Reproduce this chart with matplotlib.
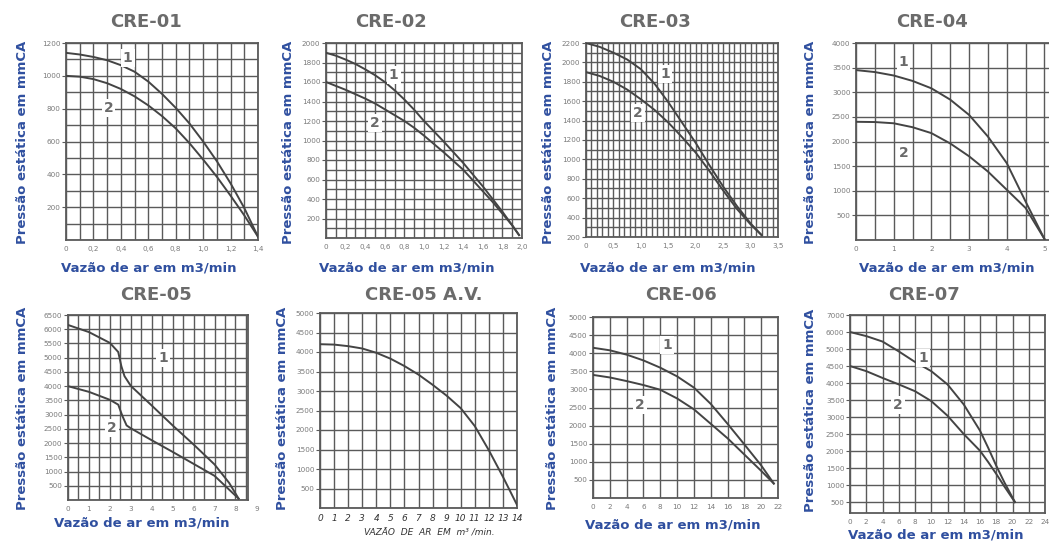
import numpy as np
import matplotlib
matplotlib.use("Agg")
import matplotlib.pyplot as plt

# ---------------- data: fan curves (pressure in mmCA vs airflow in m3/min) ----------------
cre01_x = [0, 0.1, 0.2, 0.3, 0.4, 0.5, 0.6, 0.7, 0.8, 0.9, 1.0, 1.1, 1.2, 1.3, 1.4]
cre01_y1 = [1140, 1130, 1115, 1095, 1065, 1025, 965, 890, 805, 710, 600, 480, 345, 195, 20]
cre01_y2 = [1000, 995, 980, 955, 920, 875, 820, 755, 680, 590, 490, 385, 270, 150, 20]

cre02_x = [0, 0.1, 0.2, 0.3, 0.4, 0.5, 0.6, 0.7, 0.8, 0.9, 1.0, 1.1, 1.2, 1.3, 1.4,
           1.5, 1.6, 1.7, 1.8, 1.9, 1.97]
cre02_y1 = [1900, 1870, 1830, 1785, 1730, 1670, 1600, 1515, 1420, 1315, 1200, 1095, 990,
            880, 770, 650, 530, 400, 270, 130, 30]
cre02_y2 = [1600, 1560, 1520, 1475, 1430, 1380, 1320, 1260, 1200, 1130, 1050, 965, 880,
            790, 700, 590, 480, 370, 250, 130, 30]

cre03_x = [0, 0.25, 0.5, 0.75, 1.0, 1.25, 1.5, 1.75, 2.0, 2.25, 2.5, 2.75, 3.0, 3.2]
cre03_y1 = [2200, 2160, 2100, 2030, 1930, 1780, 1590, 1380, 1170, 940, 720, 520, 340, 220]
cre03_y2 = [1900, 1860, 1800, 1720, 1620, 1510, 1380, 1230, 1070, 880, 680, 490, 330, 220]

cre04_x = [0, 0.5, 1, 1.5, 2, 2.5, 3, 3.5, 4, 4.5, 5.0]
cre04_y1 = [3450, 3410, 3340, 3230, 3080, 2850, 2540, 2100, 1560, 780, 20]
cre04_y2 = [2400, 2395, 2370, 2290, 2170, 1960, 1700, 1390, 1020, 650, 20]

cre05_x1 = [0, 1, 2, 2.4, 2.55, 2.7, 3.0, 4, 5, 6, 7, 7.7, 8.15]
cre05_y1 = [6150, 5900, 5520, 5200, 4700, 4350, 4010, 3320, 2620, 1950, 1250, 600, 50]
cre05_x2 = [0, 1, 2, 2.4, 2.6, 2.8, 3.0, 4, 5, 6, 7, 8.15]
cre05_y2 = [4000, 3800, 3520, 3350, 2950, 2620, 2520, 2100, 1690, 1270, 850, 50]

cre05av_x = [0, 1, 2, 3, 4, 5, 6, 7, 8, 9, 10, 11, 12, 13, 14]
cre05av_y = [4200, 4190, 4150, 4090, 3980, 3830, 3640, 3420, 3160, 2880, 2560, 2100, 1480, 800, 80]

cre06_x = [0, 2, 4, 6, 8, 10, 12, 14, 16, 18, 20, 21.5]
cre06_y1 = [4150, 4080, 3960, 3800, 3600, 3360, 3050, 2600, 2050, 1480, 900, 400]
cre06_y2 = [3400, 3330, 3230, 3120, 2990, 2750, 2450, 2050, 1650, 1200, 750, 400]

cre07_x = [0, 2, 4, 6, 8, 10, 12, 14, 16, 17, 18, 19, 20.3]
cre07_y1 = [6000, 5760, 5440, 4930, 4620, 4350, 3960, 3370, 2600, 2100, 1570, 1080, 500]
cre07_y2 = [4500, 4350, 4150, 3960, 3760, 3470, 3040, 2500, 2010, 1680, 1330, 960, 500]

# tick labels
cre01_xt = [0, 0.2, 0.4, 0.6, 0.8, 1.0, 1.2, 1.4]
cre01_xl = ["0", "0,2", "0,4", "0,6", "0,8", "1,0", "1,2", "1,4"]
cre02_xt = [0, 0.2, 0.4, 0.6, 0.8, 1.0, 1.2, 1.4, 1.6, 1.8, 2.0]
cre02_xl = ["0", "0,2", "0,4", "0,6", "0,8", "1,0", "1,2", "1,4", "1,6", "1,8", "2,0"]
cre03_xt = [0, 0.5, 1.0, 1.5, 2.0, 2.5, 3.0, 3.5]
cre03_xl = ["0", "0,5", "1,0", "1,5", "2,0", "2,5", "3,0", "3,5"]
cre07_yt = [500, 1000, 1500, 2000, 2500, 3000, 3500, 4000, 4500, 5000, 6000, 7000]

W, H = 1049, 545
GRID = "#5a5a5a"
CURVE = "#444444"
BLUE = "#2f4f9f"
TITLE = "#6b6b6b"
TICK = "#7a7a7a"

fig = plt.figure(figsize=(W / 100, H / 100), dpi=100)
fig.patch.set_facecolor("white")


def px_axes(x0, y0, x1, y1):
    return fig.add_axes([x0 / W, 1 - y1 / H, (x1 - x0) / W, (y1 - y0) / H])


def style(ax, xlim, ylim, xt, xl, yt, yl, xminor, yminor, italic=False):
    ax.set_xlim(*xlim)
    ax.set_ylim(*ylim)
    ax.set_xticks(xt)
    ax.set_xticklabels(xl)
    ax.set_yticks(yt)
    ax.set_yticklabels(yl)
    ax.set_xticks(xminor, minor=True)
    ax.set_yticks(yminor, minor=True)
    ax.grid(True, which="both", color=GRID, lw=1.0, zorder=1)
    ax.set_axisbelow(True)
    for s in ax.spines.values():
        s.set_color(GRID)
        s.set_linewidth(1.3)
    ax.tick_params(which="minor", length=0)
    ax.tick_params(axis="x", which="major", length=0, pad=4,
                   labelsize=6.5 if italic else 5.2,
                   labelcolor="#333333" if italic else TICK)
    ax.tick_params(axis="y", which="major", length=3, width=0.8, color=GRID, pad=1,
                   labelsize=5.2, labelcolor=TICK)
    if italic:
        for t in ax.get_xticklabels():
            t.set_fontstyle("italic")


def curve_label(ax, x, y, s):
    ax.text(x, y, s, fontsize=10, fontweight="bold", color="#6a6a6a",
            ha="center", va="center", zorder=4,
            bbox=dict(boxstyle="square,pad=0.15", fc="white", ec="none"))


def fig_text(x, y, s, **kw):
    return fig.text(x / W, 1 - y / H, s, ha="center", va="center", **kw)


def headers(title, tx, ty, ylx, yly, xlx, xly, xlabel=True):
    fig_text(tx, ty, title, fontsize=13, fontweight="bold", color=TITLE)
    fig_text(ylx, yly, "Pressão estática em mmCA", fontsize=9.5, fontweight="bold",
             color=BLUE, rotation=90)
    if xlabel:
        fig_text(xlx, xly, "Vazão de ar em m3/min", fontsize=9.5, fontweight="bold",
                 color=BLUE)


# ---------------- CRE-01 ----------------
ax = px_axes(66, 43, 258, 240)
style(ax, (0, 1.4), (0, 1200), cre01_xt, cre01_xl,
      list(range(200, 1201, 200)), [str(v) for v in range(200, 1201, 200)],
      np.arange(0, 1.41, 0.1), np.arange(0, 1201, 100))
ax.plot(cre01_x, cre01_y1, color=CURVE, lw=1.4, zorder=3)
ax.plot(cre01_x, cre01_y2, color=CURVE, lw=1.4, zorder=3)
curve_label(ax, 0.45, 1110, "1")
curve_label(ax, 0.31, 805, "2")
headers("CRE-01", 146, 22, 23, 142, 149, 268)

# ---------------- CRE-02 ----------------
ax = px_axes(326, 43, 522, 238)
style(ax, (0, 2.0), (0, 2000), cre02_xt, cre02_xl,
      list(range(200, 2001, 200)), [str(v) for v in range(200, 2001, 200)],
      np.arange(0, 2.01, 0.1), np.arange(0, 2001, 100))
ax.plot(cre02_x, cre02_y1, color=CURVE, lw=1.4, zorder=3)
ax.plot(cre02_x, cre02_y2, color=CURVE, lw=1.4, zorder=3)
curve_label(ax, 0.69, 1670, "1")
curve_label(ax, 0.50, 1180, "2")
headers("CRE-02", 391, 22, 288, 142, 407, 268)

# ---------------- CRE-03 ----------------
ax = px_axes(586, 43, 778, 237)
style(ax, (0, 3.5), (200, 2200), cre03_xt, cre03_xl,
      list(range(200, 2201, 200)), [str(v) for v in range(200, 2201, 200)],
      np.arange(0, 3.51, 0.1), np.arange(200, 2201, 100))
ax.plot(cre03_x, cre03_y1, color=CURVE, lw=1.4, zorder=3)
ax.plot(cre03_x, cre03_y2, color=CURVE, lw=1.4, zorder=3)
curve_label(ax, 1.44, 1880, "1")
curve_label(ax, 0.95, 1480, "2")
headers("CRE-03", 655, 22, 548, 142, 668, 268)

# ---------------- CRE-04 ----------------
ax = px_axes(856, 43, 1052, 240)
style(ax, (0, 5.2), (0, 4000), [0, 1, 2, 3, 4, 5], ["0", "1", "2", "3", "4", "5"],
      list(range(500, 4001, 500)), [str(v) for v in range(500, 4001, 500)],
      np.arange(0, 5.21, 0.5), np.arange(0, 4001, 500))
ax.plot(cre04_x, cre04_y1, color=CURVE, lw=1.4, zorder=3)
ax.plot(cre04_x, cre04_y2, color=CURVE, lw=1.4, zorder=3)
curve_label(ax, 1.26, 3620, "1")
curve_label(ax, 1.26, 1770, "2")
headers("CRE-04", 932, 22, 810, 142, 947, 268)

# ---------------- CRE-05 ----------------
ax = px_axes(68, 315, 248, 500)
style(ax, (0, 8.6), (0, 6500), list(range(0, 9)), [str(v) for v in range(0, 9)],
      list(range(500, 6501, 500)), [str(v) for v in range(500, 6501, 500)],
      np.arange(0, 8.61, 0.5), np.arange(0, 6501, 500))
ax.text(9, -0.035, "9", transform=ax.get_xaxis_transform(), ha="center", va="top",
        fontsize=5.2, color=TICK, clip_on=False)
ax.plot(cre05_x1, cre05_y1, color=CURVE, lw=1.4, zorder=3)
ax.plot(cre05_x2, cre05_y2, color=CURVE, lw=1.4, zorder=3)
curve_label(ax, 4.54, 4990, "1")
curve_label(ax, 2.1, 2530, "2")
headers("CRE-05", 156, 295, 23, 408, 142, 523)

# ---------------- CRE-05 A.V. ----------------
ax = px_axes(320, 313, 517, 508)
style(ax, (0, 14), (0, 5000), list(range(0, 15)), [str(v) for v in range(0, 15)],
      list(range(500, 5001, 500)), [str(v) for v in range(500, 5001, 500)],
      np.arange(0, 14.01, 1), np.arange(0, 5001, 500), italic=True)
ax.plot(cre05av_x, cre05av_y, color=CURVE, lw=1.4, zorder=3)
headers("CRE-05 A.V.", 424, 295, 283, 408, 0, 0, xlabel=False)
fig_text(429, 533, "VAZÃO  DE  AR  EM  m³ /min.", fontsize=6.5, fontstyle="italic",
         color="#333333")

# ---------------- CRE-06 ----------------
ax = px_axes(593, 317, 778, 498)
style(ax, (0, 22), (0, 5000), list(range(0, 23, 2)), [str(v) for v in range(0, 23, 2)],
      list(range(500, 5001, 500)), [str(v) for v in range(500, 5001, 500)],
      np.arange(0, 22.01, 2), np.arange(0, 5001, 500))
ax.plot(cre06_x, cre06_y1, color=CURVE, lw=1.4, zorder=3)
ax.plot(cre06_x, cre06_y2, color=CURVE, lw=1.4, zorder=3)
curve_label(ax, 8.8, 4230, "1")
curve_label(ax, 5.6, 2570, "2")
headers("CRE-06", 681, 295, 553, 408, 673, 525)

# ---------------- CRE-07 ----------------
ax = px_axes(850, 315, 1045, 513)
# the printed scale steps 500 up to 5000, then 6000 and 7000 on the same spacing
_xp = [-10000, 5000, 7000, 20000]
_fp = [-10000, 5000, 6000, 12500]
ax.set_yscale("function", functions=(lambda v: np.interp(v, _xp, _fp),
                                     lambda p: np.interp(p, _fp, _xp)))
style(ax, (0, 24), (180, 7000), list(range(0, 25, 2)), [str(v) for v in range(0, 25, 2)],
      cre07_yt, [str(v) for v in cre07_yt],
      np.arange(0, 24.01, 2), cre07_yt)
ax.plot(cre07_x, cre07_y1, color=CURVE, lw=1.4, zorder=3)
ax.plot(cre07_x, cre07_y2, color=CURVE, lw=1.4, zorder=3)
curve_label(ax, 9.0, 4735, "1")
curve_label(ax, 5.9, 3350, "2")
headers("CRE-07", 924, 295, 810, 410, 936, 535)

fig.savefig("out.png", dpi=100, facecolor="white")
